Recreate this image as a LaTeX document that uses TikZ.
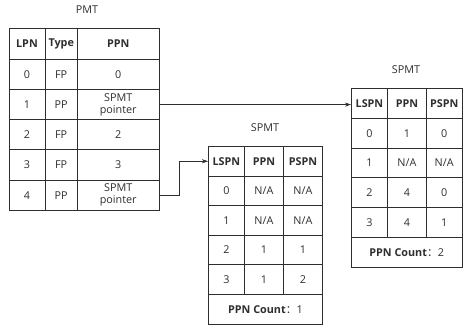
\documentclass[tikz,border=0pt]{standalone}
\usepackage{fontspec}
\setmainfont{Open Sans}
\newfontfamily\cjk{Noto Sans CJK SC}
\usetikzlibrary{arrows.meta}
\definecolor{ink}{HTML}{2E2E2E}
\tikzset{
  cell/.style={draw=ink, line width=0.9pt, anchor=north west, inner sep=0pt,
    align=center, text=ink, font=\fontsize{10.8}{12}\selectfont},
  hd/.style={font=\fontsize{10.8}{12}\selectfont\bfseries},
  ttl/.style={text=ink, font=\fontsize{10.8}{12}\selectfont},
  conn/.style={draw=ink, line width=0.7pt, -{Stealth[length=6pt,width=4pt]}}
}
% \mkcell{name}{x}{y}{w}{h}{style}{text}
\newcommand\mkcell[7]{\node[cell,#6,minimum width=#4pt,minimum height=#5pt] (#1) at (#2,#3) {#7};}
\begin{document}
\begin{tikzpicture}[x=1pt,y=-1pt]
\useasboundingbox (0,0) rectangle (463,326);
% ---------- PMT ----------
\node[ttl] (pmtT) at (87,10) {PMT};
\def\ph{30.25}
\mkcell{p-0-0}{8.5}{28.5}{36}{\ph}{hd}{LPN}
\mkcell{p-0-1}{44.5}{28.5}{32.5}{\ph}{hd}{Type}
\mkcell{p-0-2}{77}{28.5}{81.5}{\ph}{hd}{PPN}
\mkcell{p-1-0}{8.5}{58.75}{36}{\ph}{}{0}
\mkcell{p-1-1}{44.5}{58.75}{32.5}{\ph}{}{FP}
\mkcell{p-1-2}{77}{58.75}{81.5}{\ph}{}{0}
\mkcell{p-2-0}{8.5}{89}{36}{\ph}{}{1}
\mkcell{p-2-1}{44.5}{89}{32.5}{\ph}{}{PP}
\mkcell{p-2-2}{77}{89}{81.5}{\ph}{}{SPMT\\pointer}
\mkcell{p-3-0}{8.5}{119.25}{36}{\ph}{}{2}
\mkcell{p-3-1}{44.5}{119.25}{32.5}{\ph}{}{FP}
\mkcell{p-3-2}{77}{119.25}{81.5}{\ph}{}{2}
\mkcell{p-4-0}{8.5}{149.5}{36}{\ph}{}{3}
\mkcell{p-4-1}{44.5}{149.5}{32.5}{\ph}{}{FP}
\mkcell{p-4-2}{77}{149.5}{81.5}{\ph}{}{3}
\mkcell{p-5-0}{8.5}{179.75}{36}{\ph}{}{4}
\mkcell{p-5-1}{44.5}{179.75}{32.5}{\ph}{}{PP}
\mkcell{p-5-2}{77}{179.75}{81.5}{\ph}{}{SPMT\\pointer}
% ---------- middle SPMT ----------
\node[ttl] (mT) at (265,128) {SPMT};
\def\mh{29.6}
\mkcell{m-0-0}{208}{146}{36}{\mh}{hd}{LSPN}
\mkcell{m-0-1}{244}{146}{39}{\mh}{hd}{PPN}
\mkcell{m-0-2}{283}{146}{39}{\mh}{hd}{PSPN}
\mkcell{m-1-0}{208}{175.6}{36}{\mh}{}{0}
\mkcell{m-1-1}{244}{175.6}{39}{\mh}{}{N/A}
\mkcell{m-1-2}{283}{175.6}{39}{\mh}{}{N/A}
\mkcell{m-2-0}{208}{205.2}{36}{\mh}{}{1}
\mkcell{m-2-1}{244}{205.2}{39}{\mh}{}{N/A}
\mkcell{m-2-2}{283}{205.2}{39}{\mh}{}{N/A}
\mkcell{m-3-0}{208}{234.8}{36}{\mh}{}{2}
\mkcell{m-3-1}{244}{234.8}{39}{\mh}{}{1}
\mkcell{m-3-2}{283}{234.8}{39}{\mh}{}{1}
\mkcell{m-4-0}{208}{264.4}{36}{\mh}{}{3}
\mkcell{m-4-1}{244}{264.4}{39}{\mh}{}{1}
\mkcell{m-4-2}{283}{264.4}{39}{\mh}{}{2}
\mkcell{m-5}{208}{294}{114}{\mh}{}{\textbf{PPN Count}{\cjk ：}1}
% ---------- right SPMT ----------
\node[ttl] (sT) at (406,70) {SPMT};
\def\sh{29.8}
\mkcell{s-0-0}{351}{88}{36}{\sh}{hd}{LSPN}
\mkcell{s-0-1}{387}{88}{39}{\sh}{hd}{PPN}
\mkcell{s-0-2}{426}{88}{35.5}{\sh}{hd}{PSPN}
\mkcell{s-1-0}{351}{117.8}{36}{\sh}{}{0}
\mkcell{s-1-1}{387}{117.8}{39}{\sh}{}{1}
\mkcell{s-1-2}{426}{117.8}{35.5}{\sh}{}{0}
\mkcell{s-2-0}{351}{147.6}{36}{\sh}{}{1}
\mkcell{s-2-1}{387}{147.6}{39}{\sh}{}{N/A}
\mkcell{s-2-2}{426}{147.6}{35.5}{\sh}{}{N/A}
\mkcell{s-3-0}{351}{177.4}{36}{\sh}{}{2}
\mkcell{s-3-1}{387}{177.4}{39}{\sh}{}{4}
\mkcell{s-3-2}{426}{177.4}{35.5}{\sh}{}{0}
\mkcell{s-4-0}{351}{207.2}{36}{\sh}{}{3}
\mkcell{s-4-1}{387}{207.2}{39}{\sh}{}{4}
\mkcell{s-4-2}{426}{207.2}{35.5}{\sh}{}{1}
\mkcell{s-5}{351}{237}{110.5}{\sh}{}{\textbf{PPN Count}{\cjk ：}2}
% ---------- connectors ----------
\draw[conn] (p-2-2.east) -- (p-2-2.east -| s-0-0.west);
\draw[conn] (p-5-2.east) -- ++(20,0) |- (m-0-0.west);
\end{tikzpicture}
\end{document}
